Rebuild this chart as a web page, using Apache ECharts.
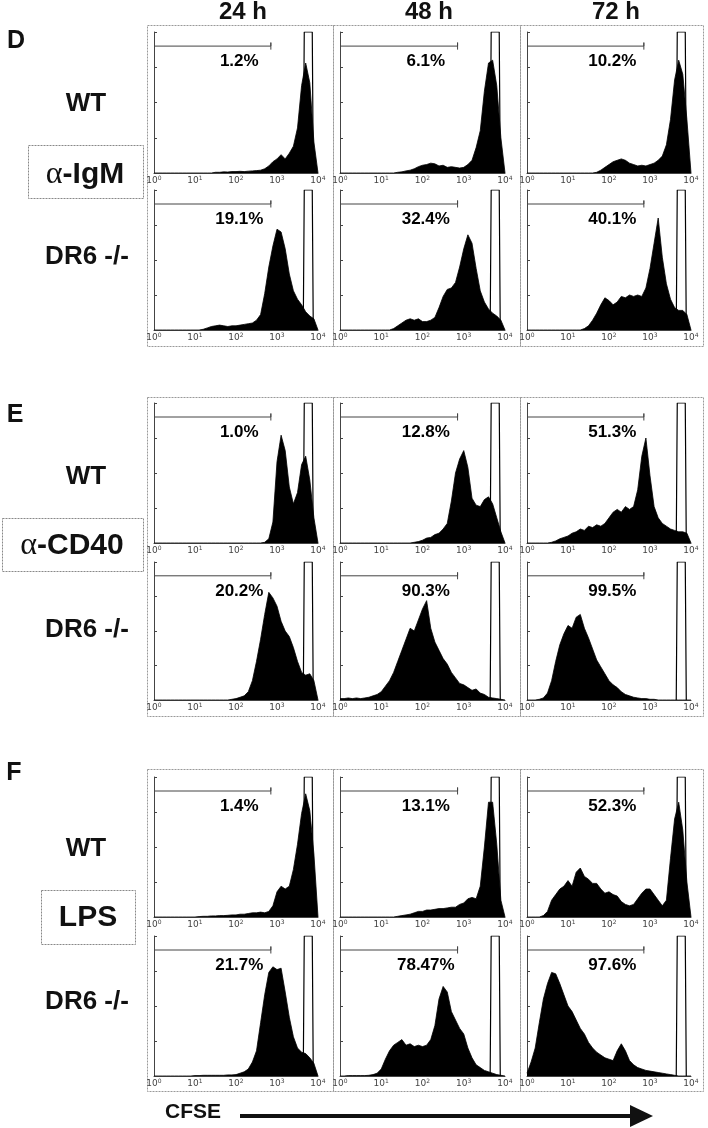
<!DOCTYPE html>
<html><head><meta charset="utf-8">
<script src="https://cdn.jsdelivr.net/npm/echarts@6/dist/echarts.min.js"></script>
<style>html,body{margin:0;padding:0;background:#fff}#c{width:708px;height:1128px}</style>
</head><body><div id="c"></div>
<script>
// ---------- DATA ----------
// histogram bin centres on a log10(CFSE) scale
const binCenters = [0,0.1,0.2,0.3,0.4,0.5,0.6,0.7,0.8,0.9,1,1.1,1.2,1.3,1.4,1.5,1.6,1.7,1.8,1.9,2,2.1,2.2,2.3,2.4,2.5,2.6,2.7,2.8,2.9,3,3.1,3.2,3.3,3.4,3.5,3.6,3.7,3.8,3.9,4];
const timepoints = ['24 h','48 h','72 h'];
const panelLetters = ['D','E','F'];
const stimuli = ['α-IgM','α-CD40','LPS'];
const genotypes = ['WT','DR6 -/-'];
const tickExponents = [0,1,2,3,4];

// D (α-IgM)
const dWT24 = [0,0,0,0,0,0,0,0,0,0,0,0,0,0,0,0.5,0.5,0.8,0.7,1,1,1.2,1,1.3,1.5,1.7,2,3,5,8,10,13,10,14,19,32,62,78,64,22,0];
const dWT48 = [0,0,0,0,0,0,0,0,0,0,0,0,0,0,0.5,0.8,1.5,2,3,4.5,5.5,6,7,6.5,5,5.5,4,4.5,4,3.5,4,6,9,18,30,58,78,80,62,25,0];
const dWT72 = [0,0,0,0,0,0,0,0,0,0,0,0,0,0,0,0,0,0.5,2,4,6,8,9,10,9,7,6,5,5.5,5,6,7,9,12,20,38,66,80,70,38,0];
const dKO24 = [0,0,0,0,0,0,0,0,0,0,0,0,0.5,1.5,2.5,3,3.5,3,2.5,3,3,3.5,4,4.5,5,7,11,26,45,60,72,70,58,40,28,22,18,13,10,8,0];
const dKO48 = [0,0,0,0,0,0,0,0,0,0,0,0,0,1,3,5,7,8,7,8,6,6,7,9,16,24,29,30,34,45,58,68,62,44,28,20,15,12,10,7,0];
const dKO72 = [0,0,0,0,0,0,0,0,0,0,0,0,0,0,1,3,7,12,18,23,21,18,20,24,23,25,24,25,24,30,44,62,80,52,33,22,16,14,14,11,0];
// E (α-CD40)
const eWT24 = [0,0,0,0,0,0,0,0,0,0,0,0,0,0,0,0,0,0,0,0,0,0,0,0,0,0,0,0.5,3,15,58,77,66,40,28,36,56,62,45,18,0];
const eWT48 = [0,0,0,0,0,0,0,0,0,0,0,0,0,0,0,0,0,0,0.5,1,2,3.5,4,6,7,10,14,30,50,60,66,54,32,27,26,31,33,28,18,8,0];
const eWT72 = [0,0,0,0,0,0,0.5,1.5,3,4,5,7,8,10,9,12,11,13,12,14,18,22,24,22,26,24,26,38,62,75,48,26,18,14,12,10,9,8,8,7,0];
const eKO24 = [0,0,0,0,0,0,0,0,0,0,0,0,0,0,0,0,0,0,0,0.5,1,2,3,6,14,28,44,62,78,74,68,57,50,46,38,28,20,18,19,14,0];
const eKO48 = [1,1,1.5,1,1.5,1,1.5,2,3,4,6,10,14,20,28,36,44,52,50,58,66,72,52,42,36,30,26,20,16,12,11,9,7,8,5,4,2,1.5,1,0.5,0];
const eKO72 = [0,0,0,0.5,1.5,5,14,28,40,48,54,52,60,62,52,45,37,29,24,19,14,11,9,6,4,3,2,1.5,1,1,0.5,0.5,0,0,0,0,0,0,0,0,0];
// F (LPS)
const fWT24 = [0,0,0,0,0,0,0,0,0,0,0,0.3,0.5,0.5,0.8,0.8,1,1,1.2,1.5,1.5,2,2,2.5,3,3,3.5,3,4,8,18,22,20,22,34,52,74,88,76,45,0];
const fWT48 = [0,0,0,0,0,0,0,0,0,0,0,0,0,0,0.5,1,1.5,2,3,4,4,5,5,5.5,6,6,6.5,7,7,9,10,13,14,13,22,50,82,82,52,12,0];
const fWT72 = [0,0,0,0,1,4,12,16,20,22,26,22,32,35,29,27,24,24,20,17,18,16,15,11,9,8,9,13,17,20,20,16,12,8,12,42,70,82,62,25,0];
const fKO24 = [0,0,0,0,0,0,0,0,0,0,0.3,0.3,0.5,0.5,0.5,0.5,0.5,0.5,0.8,0.8,1,2,3,5,10,18,38,58,74,78,76,77,60,42,28,20,17,16,13,9,0];
const fKO48 = [0,0,0.3,0.3,0.3,0.3,0.3,0.5,1,2,5,12,18,22,24,26,22,23,21,22,21,22,26,36,55,64,60,46,40,34,30,20,13,8,6,4,3,2,1,0.5,0];
const fKO72 = [2,10,20,38,55,66,74,73,66,58,50,46,40,34,30,24,20,17,15,13,12,11,18,23,18,11,8,6,5,4,3.5,3,2.5,2,1.5,1,0.5,0,0,0,0];

// percentages of divided cells (gate)
const pctDWT = ['1.2%','6.1%','10.2%'];
const pctDKO = ['19.1%','32.4%','40.1%'];
const pctEWT = ['1.0%','12.8%','51.3%'];
const pctEKO = ['20.2%','90.3%','99.5%'];
const pctFWT = ['1.4%','13.1%','52.3%'];
const pctFKO = ['21.7%','78.47%','97.6%'];

// unstimulated control peak (open histogram)
const controlX = [3.64,3.665,3.86,3.885];
const controlY = [0,100,100,0];
// gate marker range (log10 units)
const gateX = [0, 2.85];

// ---------- LAYOUT ----------
const histRows = [
  [dWT24,dWT48,dWT72],[dKO24,dKO48,dKO72],
  [eWT24,eWT48,eWT72],[eKO24,eKO48,eKO72],
  [fWT24,fWT48,fWT72],[fKO24,fKO48,fKO72]
];
const pctRows = [pctDWT,pctDKO,pctEWT,pctEKO,pctFWT,pctFKO];
const colAxis = [{l:154,w:164},{l:340,w:165},{l:527,w:164}];
const rowAxis = [{t:32,h:141},{t:190,h:140},{t:403,h:140},{t:562,h:138},{t:777,h:140},{t:936,h:140}];
const blockFrame = [[25,346],[397,716],[769,1091]];
const colFrame = [[147,333],[333,520],[520,703]];
const GATE_Y = 90, PCT_Y = 79, PCT_X = 2.08;
const SANS = "'Liberation Sans', Arial, Helvetica, sans-serif";
const INK = '#111111';

const grid = [], xAxis = [], yAxis = [], series = [];
let idx = 0;
rowAxis.forEach((r, ri) => {
  colAxis.forEach((c, ci) => {
    grid.push({left:c.l, top:r.t, width:c.w, height:r.h});
    xAxis.push({
      type:'value', gridIndex:idx, min:0, max:4, interval:1,
      axisLine:{lineStyle:{color:'#444', width:1}},
      axisTick:{show:false}, splitLine:{show:false},
      axisLabel:{
        margin:2,
        formatter: v => '{b|10}{s|' + tickExponents[v] + '}',
        rich:{
          b:{fontSize:9, color:'#444', fontFamily:'DejaVu Sans', verticalAlign:'bottom'},
          s:{fontSize:6, color:'#444', fontFamily:'DejaVu Sans', verticalAlign:'top', padding:[0,0,4,0]}
        }
      }
    });
    yAxis.push({
      type:'value', gridIndex:idx, min:0, max:100, interval:25,
      axisLine:{show:true, lineStyle:{color:'#444', width:1}},
      axisTick:{show:true, inside:true, length:3, lineStyle:{color:'#444'}},
      axisLabel:{show:false}, splitLine:{show:false}
    });
    const vals = histRows[ri][ci];
    series.push({
      type:'line', xAxisIndex:idx, yAxisIndex:idx, silent:true, animation:false,
      showSymbol:false, symbol:'none', z:2,
      data: binCenters.map((x,k) => [x, vals[k]]),
      lineStyle:{color:'#000', width:0.8},
      areaStyle:{color:'#000', opacity:1}
    });
    series.push({
      type:'line', xAxisIndex:idx, yAxisIndex:idx, silent:true, animation:false,
      showSymbol:false, symbol:'none', z:3,
      data: controlX.map((x,k) => [x, controlY[k]]),
      lineStyle:{color:'#000', width:1.2}
    });
    series.push({
      type:'line', xAxisIndex:idx, yAxisIndex:idx, silent:true, animation:false,
      showSymbol:false, symbol:'none', z:3,
      data: [[gateX[0],GATE_Y],[gateX[1],GATE_Y],[gateX[1],GATE_Y+2.5],[gateX[1],GATE_Y-2.5]],
      lineStyle:{color:'#444', width:1}
    });
    series.push({
      type:'scatter', xAxisIndex:idx, yAxisIndex:idx, silent:true, animation:false,
      symbol:'circle', symbolSize:0, itemStyle:{color:INK}, z:4,
      data: [[PCT_X, PCT_Y]],
      label:{show:true, position:'inside', formatter: pctRows[ri][ci],
        fontFamily:SANS, fontWeight:'bold', fontSize:17, color:'#000',
        textBorderWidth:0, opacity:1}
    });
    idx++;
  });
});

const graphic = [];
// panel frames
blockFrame.forEach(b => colFrame.forEach(c => {
  graphic.push({type:'rect', shape:{x:c[0]+0.5, y:b[0]+0.5, width:c[1]-c[0], height:b[1]-b[0]},
    style:{fill:'none', stroke:'#999', lineWidth:1, lineDash:[2,1]}, silent:true, z:0});
}));
function txt(text, x, y, size) {
  graphic.push({type:'text', x:x, y:y, silent:true, z:10,
    style:{text:text, fill:INK, fontFamily:SANS, fontWeight:'bold', fontSize:size, align:'center', verticalAlign:'middle'}});
}
// column headers
[243,429,616].forEach((x,i) => txt(timepoints[i], x, 12, 24));
// panel letters
[[16,41],[15,415],[14,773]].forEach((p,i) => txt(panelLetters[i], p[0], p[1], 25));
// genotype labels
[104,477,849].forEach(y => txt(genotypes[0], 86, y, 26));
[257,630,1002].forEach(y => txt(genotypes[1], 87, y, 26));
// stimulus boxes
const boxes = [[28,145,115,53],[2,518,141,53],[41,890,94,54]];
boxes.forEach(b => graphic.push({type:'rect', shape:{x:b[0]+0.5,y:b[1]+0.5,width:b[2],height:b[3]},
  style:{fill:'none', stroke:'#888', lineWidth:1, lineDash:[2,1]}, silent:true}));
const stimPos = [[85,175],[72,546],[88,918]];
stimuli.forEach((s,i) => {
  let t = s, rich = null;
  if (s.charAt(0) === 'α') {
    t = '{a|α}{b|' + s.slice(1) + '}';
    rich = {a:{fontFamily:"'Liberation Serif', 'DejaVu Serif', serif", fontSize:32, fill:INK},
            b:{fontFamily:SANS, fontWeight:'bold', fontSize:30, fill:INK}};
  }
  graphic.push({type:'text', x:stimPos[i][0], y:stimPos[i][1], silent:true, z:10,
    style:{text:t, rich:rich||undefined, fill:INK, fontFamily:SANS, fontWeight:'bold', fontSize:30, align:'center', verticalAlign:'middle'}});
});
// CFSE axis arrow
txt('CFSE', 193, 1112, 21);
graphic.push({type:'line', shape:{x1:240,y1:1116,x2:634,y2:1116}, style:{stroke:INK, lineWidth:4}, silent:true});
graphic.push({type:'polygon', shape:{points:[[630,1105],[653,1116],[630,1127]]}, style:{fill:INK}, silent:true});

const chart = echarts.init(document.getElementById('c'), null, {renderer:'canvas'});
chart.setOption({animation:false, backgroundColor:'#fff', grid, xAxis, yAxis, series, graphic});
</script></body></html>
